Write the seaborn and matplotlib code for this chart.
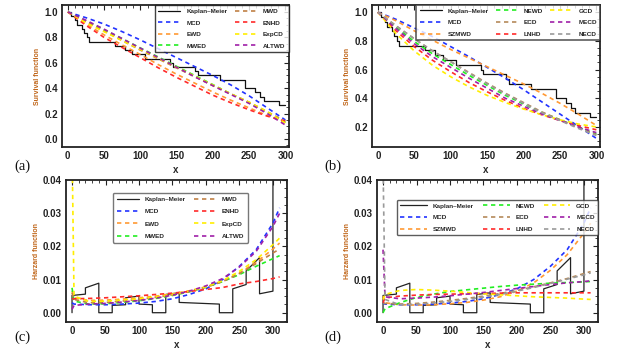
import matplotlib
matplotlib.use("Agg")
import matplotlib.pyplot as plt
import seaborn as sns
from matplotlib.ticker import MultipleLocator, FormatStrFormatter

# ---------------- data ----------------
# Kaplan-Meier survival (event times, survival after each time)
km_t = [0, 5, 10, 13, 20, 22, 27, 29, 65, 79, 89, 107, 141, 145, 176, 180, 210, 245, 258, 265, 271, 291, 300]
km_s = [1.0, 0.967, 0.933, 0.9, 0.867, 0.833, 0.8, 0.767, 0.733, 0.7, 0.667, 0.633, 0.6, 0.567, 0.533, 0.5,
        0.467, 0.4, 0.367, 0.333, 0.3, 0.267, 0.267]

# survival curves of the fitted models
sx = [0, 25, 50, 75, 100, 125, 150, 175, 200, 225, 250, 275, 300]
a_MCD = [1.0, 0.955, 0.905, 0.845, 0.78, 0.71, 0.64, 0.57, 0.50, 0.425, 0.34, 0.245, 0.15]
a_MWED = [1.0, 0.93, 0.86, 0.79, 0.717, 0.645, 0.572, 0.50, 0.428, 0.355, 0.285, 0.21, 0.13]
a_MWD = [1.0, 0.925, 0.85, 0.775, 0.70, 0.63, 0.56, 0.49, 0.42, 0.355, 0.29, 0.215, 0.14]
a_ALTWD = [1.0, 0.935, 0.865, 0.79, 0.715, 0.64, 0.565, 0.49, 0.42, 0.35, 0.28, 0.20, 0.11]
a_ExpCD = [1.0, 0.915, 0.845, 0.775, 0.705, 0.635, 0.565, 0.495, 0.425, 0.355, 0.29, 0.215, 0.125]
a_EWD = [1.0, 0.905, 0.82, 0.74, 0.665, 0.585, 0.51, 0.44, 0.37, 0.305, 0.245, 0.185, 0.13]
a_ENHD = [1.0, 0.895, 0.80, 0.72, 0.64, 0.56, 0.485, 0.415, 0.345, 0.285, 0.23, 0.18, 0.14]

b_SZMWD = [1.0, 0.94, 0.87, 0.805, 0.74, 0.68, 0.62, 0.56, 0.50, 0.435, 0.365, 0.29, 0.21]
b_MCD = [1.0, 0.95, 0.89, 0.83, 0.76, 0.69, 0.615, 0.54, 0.46, 0.375, 0.29, 0.205, 0.12]
b_NEWD = [1.0, 0.895, 0.795, 0.71, 0.635, 0.56, 0.49, 0.42, 0.36, 0.30, 0.25, 0.20, 0.15]
b_ECD = [1.0, 0.905, 0.815, 0.73, 0.655, 0.58, 0.505, 0.435, 0.37, 0.305, 0.25, 0.195, 0.145]
b_NECD = [1.0, 0.905, 0.815, 0.73, 0.655, 0.575, 0.50, 0.43, 0.365, 0.30, 0.245, 0.19, 0.14]
b_MECD = [1.0, 0.885, 0.78, 0.69, 0.615, 0.54, 0.47, 0.40, 0.345, 0.29, 0.245, 0.20, 0.16]
b_LNHD = [1.0, 0.87, 0.76, 0.665, 0.585, 0.51, 0.445, 0.385, 0.33, 0.285, 0.245, 0.21, 0.18]
b_GCD = [1.0, 0.85, 0.73, 0.63, 0.55, 0.48, 0.42, 0.37, 0.325, 0.285, 0.25, 0.22, 0.20]

# empirical (Kaplan-Meier based) hazard, piecewise over 20-unit bins
hkm_x = [0, 0, 20, 20, 40, 40, 60, 60, 80, 80, 100, 100, 120, 120, 140, 140, 160, 160, 220, 220,
         240, 240, 260, 260, 280, 280, 300, 300]
hkm_y = [0, 0.0052, 0.0056, 0.0075, 0.0089, 0, 0, 0.0022, 0.0024, 0.0045, 0.0050, 0.0026, 0.0024, 0,
         0, 0.0055, 0.0060, 0.0031, 0.0026, 0, 0, 0.0072, 0.0085, 0.0126, 0.0166, 0.0057, 0.0065, 0.05]

# hazard curves of the fitted models
hx = [0, 3, 25, 50, 75, 100, 125, 150, 175, 200, 225, 250, 275, 300, 310]
c_MCD = [0.0030, 0.0026, 0.0024, 0.0024, 0.0026, 0.0029, 0.0034, 0.0042, 0.0055, 0.0072, 0.0100, 0.0140, 0.0190, 0.0270, 0.0316]
c_ALTWD = [0.0010, 0.0022, 0.0026, 0.0028, 0.0032, 0.0037, 0.0044, 0.0053, 0.0065, 0.0081, 0.0103, 0.0138, 0.0185, 0.0260, 0.0300]
c_ExpCD = [0.0500, 0.0050, 0.0034, 0.0035, 0.0038, 0.0042, 0.0048, 0.0055, 0.0065, 0.0078, 0.0097, 0.0125, 0.0160, 0.0205, 0.0225]
c_EWD = [0.0065, 0.0045, 0.0037, 0.0038, 0.0041, 0.0045, 0.0050, 0.0057, 0.0066, 0.0078, 0.0095, 0.0120, 0.0152, 0.0192, 0.0210]
c_MWD = [0.0060, 0.0040, 0.0030, 0.0031, 0.0035, 0.0040, 0.0046, 0.0054, 0.0064, 0.0077, 0.0094, 0.0118, 0.0148, 0.0180, 0.0192]
c_MWED = [0.0075, 0.0035, 0.0026, 0.0027, 0.0031, 0.0036, 0.0043, 0.0052, 0.0063, 0.0077, 0.0094, 0.0115, 0.0140, 0.0163, 0.0172]
c_ENHD = [0.0042, 0.0042, 0.0043, 0.0045, 0.0048, 0.0051, 0.0055, 0.0059, 0.0064, 0.0070, 0.0076, 0.0087, 0.0094, 0.0103, 0.0108]

d_MCD = c_MCD
d_SZMWD = [0.0050, 0.0030, 0.0024, 0.0023, 0.0024, 0.0027, 0.0031, 0.0038, 0.0048, 0.0065, 0.0090, 0.0128, 0.0175, 0.0240, 0.0270]
d_NEWD = [0.0000, 0.0012, 0.0030, 0.0046, 0.0056, 0.0064, 0.0069, 0.0074, 0.0079, 0.0083, 0.0086, 0.0089, 0.0091, 0.0093, 0.0094]
d_GCD = [0.0040, 0.0055, 0.0067, 0.0070, 0.0068, 0.0065, 0.0061, 0.0057, 0.0054, 0.0051, 0.0048, 0.0046, 0.0044, 0.0041, 0.0040]
d_ECD = [0.0030, 0.0028, 0.0026, 0.0028, 0.0032, 0.0037, 0.0043, 0.0050, 0.0058, 0.0067, 0.0078, 0.0090, 0.0103, 0.0118, 0.0124]
d_MECD = [0.0190, 0.0048, 0.0042, 0.0044, 0.0047, 0.0051, 0.0056, 0.0061, 0.0067, 0.0073, 0.0079, 0.0085, 0.0090, 0.0094, 0.0096]
d_LNHD = [0.0030, 0.0045, 0.0050, 0.0053, 0.0055, 0.0056, 0.0057, 0.0058, 0.0059, 0.0060, 0.0060, 0.0060, 0.0060, 0.0060, 0.0060]
d_NECD = [0.0450, 0.0040, 0.0024, 0.0025, 0.0029, 0.0034, 0.0040, 0.0047, 0.0055, 0.0065, 0.0076, 0.0088, 0.0101, 0.0114, 0.0120]

COL = {
    "MCD": "#2233ff", "EWD": "#ff9933", "MWED": "#22ee22", "MWD": "#c08045", "ENHD": "#ff2a2a",
    "ExpCD": "#ffee00", "ALTWD": "#a020a8", "NEWD": "#22ee22", "ECD": "#b58a5a", "LNHD": "#ff2a2a",
    "GCD": "#ffee00", "MECD": "#a020a8", "NECD": "#9a9a9a", "SZMWD": "#ff9933",
}

# ---------------- style ----------------
sns.set_theme(style="white")
plt.rcParams["font.family"] = ["Liberation Sans", "DejaVu Sans"]
plt.rcParams["font.weight"] = "bold"

fig = plt.figure(figsize=(6.22, 3.5), dpi=100)
W, H = 622.0, 350.0
axA = fig.add_axes([62 / W, 1 - 147 / H, 227 / W, 142 / H])
axB = fig.add_axes([372 / W, 1 - 147 / H, 228 / W, 142 / H])
axC = fig.add_axes([66 / W, 1 - 322 / H, 221 / W, 142 / H])
axD = fig.add_axes([377 / W, 1 - 322 / H, 221 / W, 142 / H])

DASH = (0, (2.6, 2.2))
LABCOL = "#c0661a"


def style(ax, ylabel, ymaj, ymin, fmt):
    for s in ax.spines.values():
        s.set_visible(True)
        s.set_color("#222222")
        s.set_linewidth(1.3)
    ax.xaxis.set_major_locator(MultipleLocator(50))
    ax.xaxis.set_minor_locator(MultipleLocator(10))
    ax.yaxis.set_major_locator(MultipleLocator(ymaj))
    ax.yaxis.set_minor_locator(MultipleLocator(ymin))
    ax.yaxis.set_major_formatter(FormatStrFormatter(fmt))
    ax.tick_params(which="both", direction="in", top=True, right=True, colors="#222222")
    ax.tick_params(which="major", length=3.5, width=0.8, labelsize=7, pad=3)
    ax.tick_params(which="minor", length=2, width=0.6)
    for lab in ax.get_xticklabels() + ax.get_yticklabels():
        lab.set_fontweight("bold")
    ax.set_xlabel("x", fontsize=7, fontweight="bold", labelpad=3)
    ax.set_ylabel(ylabel, fontsize=5, fontweight="bold", color=LABCOL, labelpad=2)


def model(ax, x, y, name, lw=1.2):
    sns.lineplot(x=x, y=y, ax=ax, color=COL[name], linestyle=DASH, linewidth=lw,
                 estimator=None, sort=False, label=name, legend=False)


LEGPROP = {"weight": "bold", "size": 4.6}

# ---------------- (a) ----------------
sns.lineplot(x=km_t, y=km_s, ax=axA, color="#111111", linewidth=0.9, drawstyle="steps-post",
             estimator=None, sort=False, label="Kaplan\u2013Meier", legend=False)
for nm, arr in [("MCD", a_MCD), ("EWD", a_EWD), ("MWED", a_MWED), ("MWD", a_MWD),
                ("ENHD", a_ENHD), ("ExpCD", a_ExpCD), ("ALTWD", a_ALTWD)]:
    model(axA, sx, arr, nm)
axA.set_xlim(-8, 305)
axA.set_ylim(-0.063, 1.055)
style(axA, "Survival function", 0.2, 0.05, "%.1f")
hA = {l.get_label(): l for l in axA.get_lines()}
order = ["Kaplan\u2013Meier", "MCD", "EWD", "MWED", "MWD", "ENHD", "ExpCD", "ALTWD"]
lg = axA.legend([hA[k] for k in order], order, ncol=2, loc="upper right", bbox_to_anchor=(1, 1),
                borderaxespad=0, prop=LEGPROP, frameon=True, fancybox=False, handlelength=3.5,
                handletextpad=0.9, columnspacing=1.2, labelspacing=0.95, borderpad=0.55)
lg.get_frame().set_edgecolor("#111111")
lg.get_frame().set_linewidth(1.0)

# ---------------- (b) ----------------
sns.lineplot(x=km_t, y=km_s, ax=axB, color="#111111", linewidth=0.9, drawstyle="steps-post",
             estimator=None, sort=False, label="Kaplan\u2013Meier", legend=False)
for nm, arr in [("MCD", b_MCD), ("SZMWD", b_SZMWD), ("NEWD", b_NEWD), ("ECD", b_ECD),
                ("LNHD", b_LNHD), ("GCD", b_GCD), ("MECD", b_MECD), ("NECD", b_NECD)]:
    model(axB, sx, arr, nm)
axB.set_xlim(-8, 305)
axB.set_ylim(0.06, 1.05)
style(axB, "Survival function", 0.2, 0.05, "%.1f")
hB = {l.get_label(): l for l in axB.get_lines()}
orderB = ["Kaplan\u2013Meier", "MCD", "SZMWD", "NEWD", "ECD", "LNHD", "GCD", "MECD", "NECD"]
lg = axB.legend([hB[k] for k in orderB], orderB, ncol=3, loc="upper right", bbox_to_anchor=(1, 1),
                borderaxespad=0, prop=LEGPROP, frameon=True, fancybox=False, handlelength=3.5,
                handletextpad=0.9, columnspacing=1.1, labelspacing=0.95, borderpad=0.5)
lg.get_frame().set_edgecolor("#333333")
lg.get_frame().set_linewidth(1.2)

# ---------------- (c) ----------------
sns.lineplot(x=hkm_x, y=hkm_y, ax=axC, color="#222222", linewidth=0.9,
             estimator=None, sort=False, label="Kaplan\u2013Meier", legend=False)
for nm, arr in [("MCD", c_MCD), ("EWD", c_EWD), ("MWED", c_MWED), ("MWD", c_MWD),
                ("ENHD", c_ENHD), ("ExpCD", c_ExpCD), ("ALTWD", c_ALTWD)]:
    model(axC, hx, arr, nm)
axC.set_xlim(-9, 321)
axC.set_ylim(-0.0028, 0.04)
style(axC, "Harzard function", 0.01, 0.0025, "%.2f")
hC = {l.get_label(): l for l in axC.get_lines()}
lg = axC.legend([hC[k] for k in order], order, ncol=2, loc="upper left",
                bbox_to_anchor=(47 / 221, 129 / 142), borderaxespad=0, prop=LEGPROP, frameon=True,
                fancybox=True, handlelength=3.5, handletextpad=0.9, columnspacing=1.2,
                labelspacing=1.05, borderpad=0.6)
lg.get_frame().set_edgecolor("#555555")
lg.get_frame().set_linewidth(1.0)

# ---------------- (d) ----------------
sns.lineplot(x=hkm_x, y=hkm_y, ax=axD, color="#222222", linewidth=0.9,
             estimator=None, sort=False, label="Kaplan\u2013Meier", legend=False)
for nm, arr in [("MCD", d_MCD), ("SZMWD", d_SZMWD), ("NEWD", d_NEWD), ("ECD", d_ECD),
                ("LNHD", d_LNHD), ("GCD", d_GCD), ("MECD", d_MECD), ("NECD", d_NECD)]:
    model(axD, hx, arr, nm)
axD.set_xlim(-9, 321)
axD.set_ylim(-0.0028, 0.04)
style(axD, "Harzard function", 0.01, 0.0025, "%.2f")
hD = {l.get_label(): l for l in axD.get_lines()}
lg = axD.legend([hD[k] for k in orderB], orderB, ncol=3, loc="upper left",
                bbox_to_anchor=(20 / 221, 122 / 142), borderaxespad=0, prop=LEGPROP, frameon=True,
                fancybox=True, handlelength=4.2, handletextpad=0.9, columnspacing=1.4,
                labelspacing=0.95, borderpad=0.5)
lg.get_frame().set_edgecolor("#333333")
lg.get_frame().set_linewidth(1.0)

# panel labels
for lab, px, py in [("(a)", 22, 166), ("(b)", 333, 166), ("(c)", 22, 337), ("(d)", 333, 337)]:
    fig.text(px / W, 1 - py / H, lab, family=["Liberation Serif", "DejaVu Serif"], fontsize=10.5,
             fontweight="normal", ha="center", va="center", color="#111111")

fig.savefig("out.png", dpi=100)
